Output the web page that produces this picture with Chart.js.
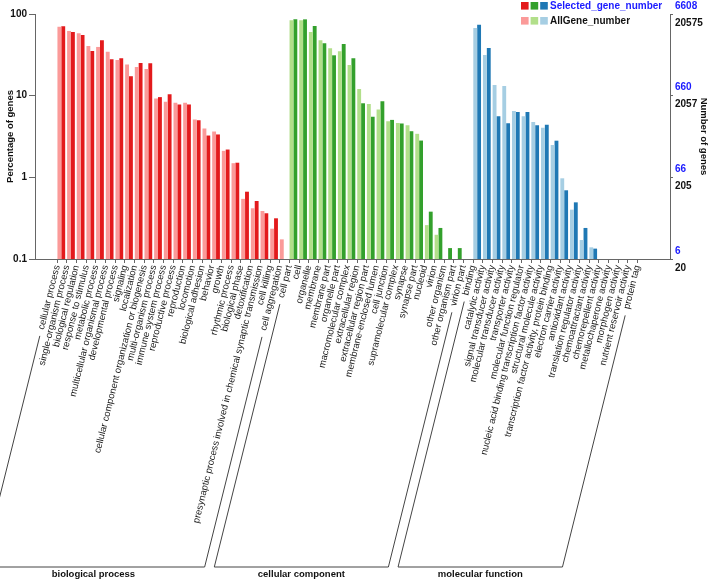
<!DOCTYPE html>
<html>
<head>
<meta charset="utf-8">
<script src="https://cdn.jsdelivr.net/npm/chart.js@4.4.0/dist/chart.umd.min.js"></script>
<style>
  body { margin: 0; background: #fff; }
  canvas { display: block; }
</style>
</head>
<body>
<canvas id="goChart" width="709" height="580"></canvas>
<script>
// ========== DATA ==========
const bpTerms = ['cellular process', 'single-organism process', 'biological regulation', 'response to stimulus',
    'metabolic process', 'multicellular organismal process', 'developmental process', 'signaling', 'localization',
    'cellular component organization or biogenesis', 'multi-organism process', 'immune system process',
    'reproductive process', 'reproduction', 'locomotion', 'biological adhesion', 'behavior', 'growth',
    'rhythmic process', 'biological phase', 'detoxification',
    'presynaptic process involved in chemical synaptic transmission', 'cell killing', 'cell aggregation'];
const ccTerms = ['cell part', 'cell', 'organelle', 'membrane', 'membrane part', 'organelle part',
    'macromolecular complex', 'extracellular region', 'extracellular region part', 'membrane-enclosed lumen',
    'cell junction', 'supramolecular complex', 'synapse', 'synapse part', 'nucleoid', 'virion',
    'other organism', 'other organism part', 'virion part'];
const mfTerms = ['binding', 'catalytic activity', 'signal transducer activity', 'molecular transducer activity',
    'transporter activity', 'molecular function regulator', 'nucleic acid binding transcription factor activity',
    'structural molecule activity', 'transcription factor activity, protein binding', 'electron carrier activity',
    'antioxidant activity', 'translation regulator activity', 'chemoattractant activity', 'chemorepellent activity',
    'metallochaperone activity', 'morphogen activity', 'nutrient reservoir activity', 'protein tag'];

// percentage of genes (AllGene_number = light, Selected_gene_number = dark)
const bpAll = [70, 62, 58, 40.6, 39.5, 34.6, 27.4, 24, 22.5, 21.2, 9.2, 8.4, 8.2, 8.2, 5.1, 3.96, 3.64, 2.11,
    1.49, 0.545, 0.418, 0.387, 0.235, 0.174];
const bpSelected = [70.6, 60, 55.4, 35.3, 47.7, 27.9, 28.7, 17.3, 25.2, 24.9, 9.6, 10.4, 7.8, 7.8, 5.0, 3.25,
    3.35, 2.19, 1.51, 0.667, 0.513, 0.363, 0.315, null];
const ccAll = [83.7, 83.7, 60.3, 47.7, 38, 34.9, 23.8, 12.1, 7.9, 6.76, 4.86, 4.64, 4.35, 3.41, 0.26, 0.198,
    null, null, null];
const ccSelected = [86, 86, 71.3, 43.8, 31.2, 43, 28.7, 8.07, 5.5, 8.55, 5.05, 4.56, 3.67, 2.82, 0.38, 0.24,
    0.136, 0.136, null];
const mfAll = [67.4, 31.5, 13.5, 13.1, 6.49, 5.59, 4.76, 4.05, 2.49, 0.973, 0.402, 0.171, 0.139,
    null, null, null, null, null];
const mfSelected = [74, 38.3, 5.59, 4.59, 6.31, 6.31, 4.33, 4.41, 2.81, 0.694, 0.494, 0.24, 0.134,
    null, null, null, null, null];

const percentTicks = [0.1, 1, 10, 100];
const allGeneTicks = ['20', '205', '2057', '20575'];
const selectedGeneTicks = ['6', '66', '660', '6608'];
const groupNames = ['biological process', 'cellular component', 'molecular function'];

const lightColors = ['#FB9A99', '#B2DF8A', '#A6CEE3'];
const darkColors = ['#E31A1C', '#33A02C', '#1F78B4'];
const FONT = "'Liberation Sans', Arial, Helvetica, sans-serif";
const ROT = 76;
const LABEL_SIZE = 9.5;

// ========== BUILD ==========
const groups = [bpTerms, ccTerms, mfTerms];
const terms = [...bpTerms, ...ccTerms, ...mfTerms];
const groupOf = [];
groups.forEach((g, gi) => g.forEach(() => groupOf.push(gi)));
const allValues = [...bpAll, ...ccAll, ...mfAll];
const selectedValues = [...bpSelected, ...ccSelected, ...mfSelected];

const toPoints = vals => vals.map((v, i) => ({ x: i + 0.42, y: v }));

// ========== PLUGINS ==========
const decorations = {
    id: 'decorations',
    afterDraw(chart) {
        const ctx = chart.ctx;
        const xs = chart.scales.x;
        const y2 = chart.scales.y2;
        ctx.save();

        // blue (selected) numbers on right axis
        ctx.font = 'bold 10px ' + FONT;
        ctx.fillStyle = '#1a1aff';
        ctx.textAlign = 'left';
        ctx.textBaseline = 'middle';
        percentTicks.forEach((v, i) => {
            ctx.fillText(selectedGeneTicks[i], y2.left + 5, y2.getPixelForValue(v) - 8);
        });

        // legend
        const lx = 521;
        [2, 17].forEach((top, row) => {
            const cols = row === 0 ? darkColors : lightColors;
            cols.forEach((c, k) => {
                ctx.fillStyle = c;
                ctx.fillRect(lx + k * 9.6, top, 7.6, 7.6);
            });
        });
        ctx.fillStyle = '#1a1aff';
        ctx.fillText('Selected_gene_number', 550, 6);
        ctx.fillStyle = '#111';
        ctx.fillText('AllGene_number', 550, 21.5);

        // group brackets
        const ang = ROT * Math.PI / 180;
        const labelTop = xs.top + 7;
        const baseY = 567;
        const labelFont = LABEL_SIZE + 'px ' + FONT;
        ctx.font = labelFont;
        const diag = i => {
            const px = xs.getPixelForValue(i);
            const w = ctx.measureText(terms[i]).width + 6;
            return {
                tx: px - w * Math.cos(ang),
                ty: labelTop + w * Math.sin(ang),
                bx: px - (baseY - labelTop) / Math.tan(ang)
            };
        };
        ctx.strokeStyle = '#444';
        ctx.lineWidth = 1;
        let start = 0;
        groups.forEach((g, gi) => {
            const a = diag(start), b = diag(start + g.length - 1);
            ctx.beginPath();
            ctx.moveTo(a.tx, a.ty);
            ctx.lineTo(a.bx, baseY);
            ctx.lineTo(b.bx, baseY);
            ctx.lineTo(b.tx, b.ty);
            ctx.stroke();
            ctx.font = 'bold 9.5px ' + FONT;
            ctx.fillStyle = '#111';
            ctx.textAlign = 'center';
            ctx.fillText(groupNames[gi], (a.bx + b.bx) / 2, baseY + 7);
            ctx.font = labelFont;
            start += g.length;
        });
        ctx.restore();
    }
};

// ========== CHART ==========
new Chart(document.getElementById('goChart'), {
    type: 'bar',
    data: {
        datasets: [{
            label: 'AllGene_number',
            data: toPoints(allValues),
            backgroundColor: groupOf.map(g => lightColors[g]),
            yAxisID: 'y'
        }, {
            label: 'Selected_gene_number',
            data: toPoints(selectedValues),
            backgroundColor: groupOf.map(g => darkColors[g]),
            yAxisID: 'y'
        }]
    },
    options: {
        responsive: false,
        animation: false,
        layout: { padding: { top: 14, left: 0, right: 0, bottom: 0 } },
        categoryPercentage: 0.8,
        barPercentage: 1.0,
        plugins: { legend: { display: false }, tooltip: { enabled: false } },
        scales: {
            x: {
                type: 'linear',
                bounds: 'data',
                min: -2.3,
                max: 63.36,
                offset: false,
                afterBuildTicks: s => { s.ticks = terms.map((t, i) => ({ value: i })); },
                afterFit: s => { s.height = 321; },
                grid: { drawOnChartArea: false, offset: false, tickLength: 4, color: '#666' },
                border: { color: '#666' },
                ticks: {
                    autoSkip: false,
                    minRotation: ROT,
                    maxRotation: ROT,
                    padding: 1,
                    sampleSize: 100,
                    color: '#222',
                    font: { family: FONT, size: LABEL_SIZE },
                    callback: (v, i) => terms[i]
                }
            },
            y: {
                type: 'logarithmic',
                position: 'left',
                min: 0.1,
                max: 100,
                afterBuildTicks: s => { s.ticks = percentTicks.map(v => ({ value: v })); },
                afterFit: s => { s.width = 35; },
                grid: { drawOnChartArea: false, tickLength: 6, color: '#666' },
                border: { color: '#666' },
                title: {
                    display: true,
                    text: 'Percentage of genes',
                    color: '#111',
                    font: { family: FONT, size: 9.5, weight: 'bold' },
                    padding: { top: 5, bottom: 0 }
                },
                ticks: {
                    color: '#111',
                    padding: 2,
                    font: { family: FONT, size: 10, weight: 'bold' },
                    callback: v => String(v)
                }
            },
            y2: {
                type: 'logarithmic',
                position: 'right',
                min: 0.1,
                max: 100,
                afterBuildTicks: s => { s.ticks = percentTicks.map(v => ({ value: v })); },
                afterFit: s => { s.width = 39; },
                grid: { drawOnChartArea: false, tickLength: 3, color: '#666' },
                border: { color: '#666' },
                title: {
                    display: true,
                    text: 'Number of genes',
                    color: '#111',
                    font: { family: FONT, size: 9.5, weight: 'bold' },
                    padding: { top: 0, bottom: 0 }
                },
                ticks: {
                    color: '#111',
                    padding: 2,
                    labelOffset: 9,
                    font: { family: FONT, size: 10, weight: 'bold' },
                    callback: (v, i) => allGeneTicks[i]
                }
            }
        }
    },
    plugins: [decorations]
});
</script>
</body>
</html>
